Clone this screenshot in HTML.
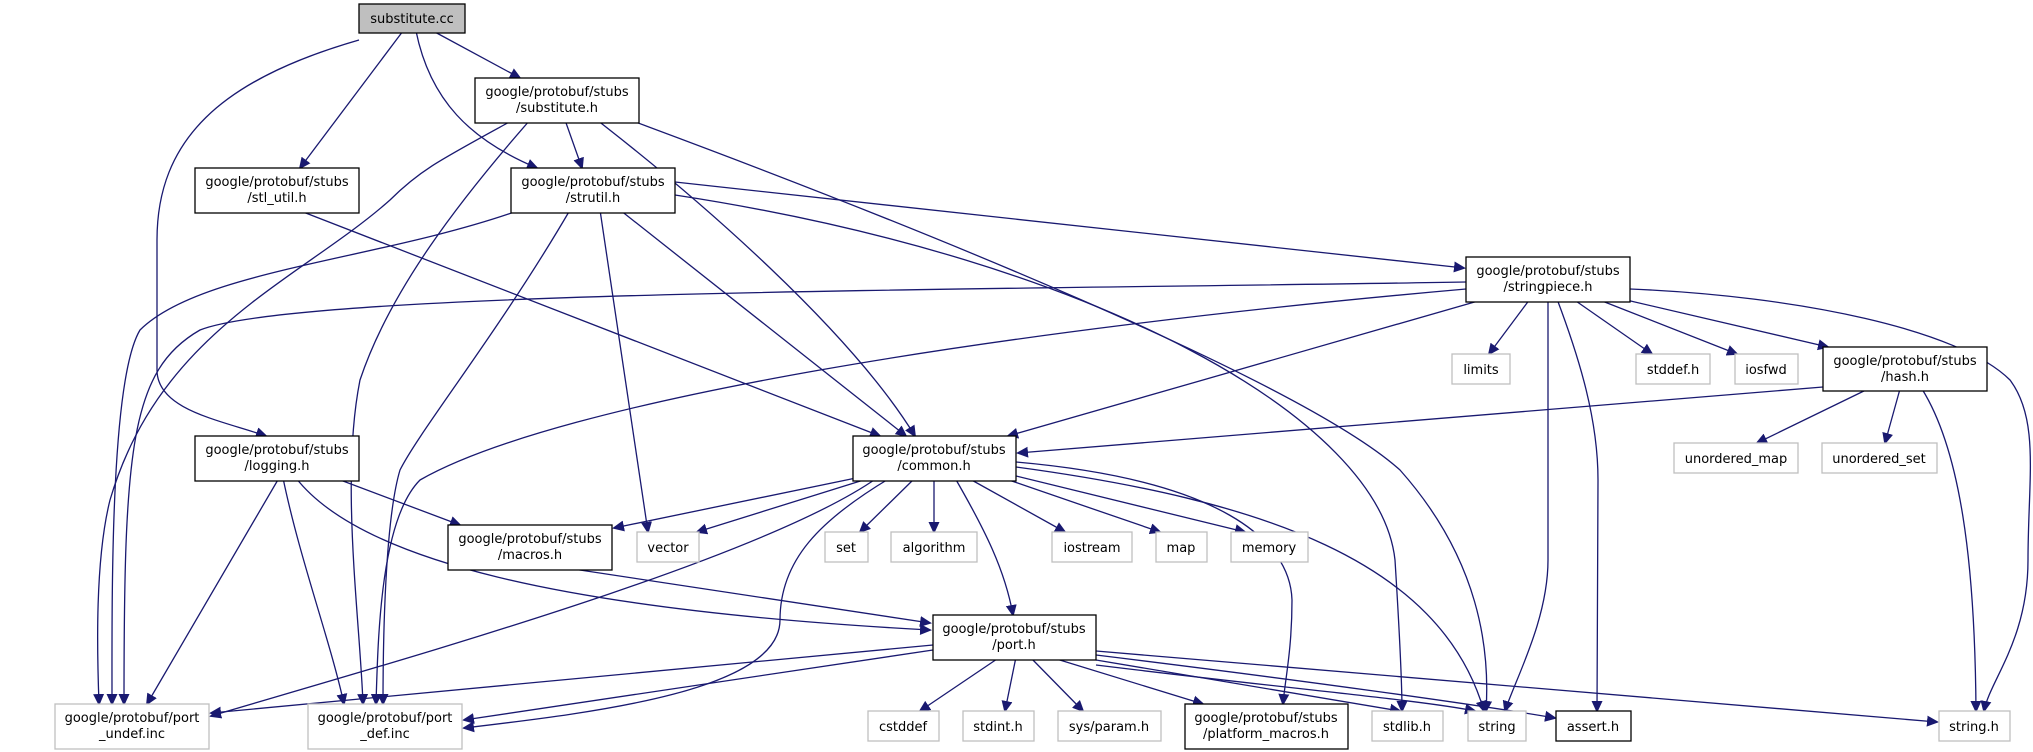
<!DOCTYPE html>
<html><head><meta charset="utf-8"><style>
html,body{margin:0;padding:0;background:#fff;width:2033px;height:752px;overflow:hidden}
svg text{font-family:"DejaVu Sans","Liberation Sans",sans-serif;font-size:13px;fill:#000}
</style></head><body>
<svg width="2033" height="752" viewBox="0 0 2033 752" xmlns="http://www.w3.org/2000/svg">
<defs>
<marker id="a" markerUnits="userSpaceOnUse" markerWidth="14" markerHeight="12" refX="10" refY="6" orient="auto">
<path d="M0,0.5 L12,6 L0,11.5 z" fill="#191970"/>
</marker>
</defs>
<g fill="none" stroke="#191970" stroke-width="1.3" marker-end="url(#a)">
<path d="M433,31 L520,78"/>
<path d="M403,31 L300,168"/>
<path d="M416,31 C430,100 470,140 537,168"/>
<path d="M359,40 C220,80 157,140 157,240 L157,370 C157,410 220,420 266,436"/>
<path d="M565,120 L582,168"/>
<path d="M513,120 C440,160 420,170 390,200 C300,280 160,330 110,500 C95,560 97,650 99,704"/>
<path d="M530,120 C460,200 390,290 360,380 C340,480 360,620 363,704"/>
<path d="M597,120 C700,200 850,330 915,436"/>
<path d="M630,120 C900,220 1300,380 1400,470 C1480,560 1490,650 1486,711"/>
<path d="M675,182 L1464,268"/>
<path d="M620,210 L906,436"/>
<path d="M600,210 L648,532"/>
<path d="M675,195 C1100,260 1380,420 1395,560 C1400,640 1402,690 1402,711"/>
<path d="M520,210 C380,260 200,270 140,330 C110,380 112,600 112,704"/>
<path d="M570,210 C500,330 420,430 400,470 C385,520 383,640 383,704"/>
<path d="M298,210 L880,436"/>
<path d="M1485,299 L1008,436"/>
<path d="M1530,299 L1489,354"/>
<path d="M1573,299 L1652,354"/>
<path d="M1597,299 L1737,354"/>
<path d="M1622,299 L1828,347"/>
<path d="M1630,289 C1800,296 1960,330 2010,380 C2040,420 2028,480 2028,560 C2028,640 1990,680 1984,711"/>
<path d="M1557,299 C1580,360 1598,420 1598,480 L1597,711"/>
<path d="M1548,299 L1548,560 C1548,620 1515,680 1505,711"/>
<path d="M1466,282 C1000,290 300,290 200,330 C130,370 124,450 124,704"/>
<path d="M1466,289 C1000,330 560,400 420,480 C380,520 378,640 376,704"/>
<path d="M1823,387 L1018,453"/>
<path d="M1868,389 L1757,443"/>
<path d="M1900,389 L1885,443"/>
<path d="M1922,389 C1960,450 1975,560 1976,711"/>
<path d="M335,478 L460,525"/>
<path d="M296,478 C360,560 560,610 930,630"/>
<path d="M279,478 L147,704"/>
<path d="M283,478 C300,560 330,640 344,704"/>
<path d="M856,478 L614,528"/>
<path d="M870,478 L697,532"/>
<path d="M915,478 L860,532"/>
<path d="M934,478 L934,532"/>
<path d="M968,478 L1065,532"/>
<path d="M1003,478 L1160,532"/>
<path d="M1016,476 L1245,532"/>
<path d="M955,478 C985,530 1005,570 1013,615"/>
<path d="M1016,462 C1220,480 1290,540 1292,600 C1292,650 1285,680 1283,704"/>
<path d="M1016,467 C1260,500 1440,560 1484,711"/>
<path d="M877,478 C760,560 400,660 211,716"/>
<path d="M890,478 C820,520 780,560 780,620 C780,690 600,712 464,728"/>
<path d="M560,567 L930,623"/>
<path d="M1000,657 L920,711"/>
<path d="M1016,657 L1005,711"/>
<path d="M1030,657 L1083,711"/>
<path d="M1050,657 L1203,704"/>
<path d="M1096,660 C1250,685 1340,700 1400,711"/>
<path d="M1096,665 C1300,690 1420,700 1475,711"/>
<path d="M1096,655 C1300,680 1480,705 1555,718"/>
<path d="M1096,651 L1937,722"/>
<path d="M933,645 L211,713"/>
<path d="M933,650 L464,720"/>
</g>
<g stroke-width="1.3">
<rect x="359" y="4" width="106" height="29" fill="#bfbfbf" stroke="#000"/>
<text x="412" y="23" text-anchor="middle">substitute.cc</text>

<rect x="475" y="78" width="164" height="45" fill="#fff" stroke="#000"/>
<text x="557" y="96" text-anchor="middle">google/protobuf/stubs</text><text x="557" y="112" text-anchor="middle">/substitute.h</text>

<rect x="195" y="168" width="164" height="45" fill="#fff" stroke="#000"/>
<text x="277" y="186" text-anchor="middle">google/protobuf/stubs</text><text x="277" y="202" text-anchor="middle">/stl_util.h</text>

<rect x="511" y="168" width="164" height="45" fill="#fff" stroke="#000"/>
<text x="593" y="186" text-anchor="middle">google/protobuf/stubs</text><text x="593" y="202" text-anchor="middle">/strutil.h</text>

<rect x="1466" y="257" width="164" height="45" fill="#fff" stroke="#000"/>
<text x="1548" y="275" text-anchor="middle">google/protobuf/stubs</text><text x="1548" y="291" text-anchor="middle">/stringpiece.h</text>

<rect x="195" y="436" width="164" height="45" fill="#fff" stroke="#000"/>
<text x="277" y="454" text-anchor="middle">google/protobuf/stubs</text><text x="277" y="470" text-anchor="middle">/logging.h</text>

<rect x="853" y="436" width="163" height="45" fill="#fff" stroke="#000"/>
<text x="934" y="454" text-anchor="middle">google/protobuf/stubs</text><text x="934" y="470" text-anchor="middle">/common.h</text>

<rect x="1823" y="347" width="164" height="44" fill="#fff" stroke="#000"/>
<text x="1905" y="365" text-anchor="middle">google/protobuf/stubs</text><text x="1905" y="381" text-anchor="middle">/hash.h</text>

<rect x="448" y="525" width="164" height="45" fill="#fff" stroke="#000"/>
<text x="530" y="543" text-anchor="middle">google/protobuf/stubs</text><text x="530" y="559" text-anchor="middle">/macros.h</text>

<rect x="933" y="615" width="163" height="45" fill="#fff" stroke="#000"/>
<text x="1014" y="633" text-anchor="middle">google/protobuf/stubs</text><text x="1014" y="649" text-anchor="middle">/port.h</text>

<rect x="1185" y="704" width="163" height="45" fill="#fff" stroke="#000"/>
<text x="1266" y="722" text-anchor="middle">google/protobuf/stubs</text><text x="1266" y="738" text-anchor="middle">/platform_macros.h</text>

<rect x="1556" y="711" width="75" height="30" fill="#fff" stroke="#000"/>
<text x="1593" y="731" text-anchor="middle">assert.h</text>
</g>
<g stroke="#bfbfbf" stroke-width="1.3" fill="#fff">
<rect x="55" y="704" width="154" height="45"/>
<rect x="308" y="704" width="154" height="45"/>
<rect x="1452" y="354" width="58" height="30"/>
<rect x="1636" y="354" width="74" height="30"/>
<rect x="1735" y="354" width="63" height="30"/>
<rect x="1674" y="443" width="124" height="30"/>
<rect x="1822" y="443" width="115" height="30"/>
<rect x="637" y="532" width="62" height="30"/>
<rect x="825" y="532" width="43" height="30"/>
<rect x="891" y="532" width="86" height="30"/>
<rect x="1052" y="532" width="80" height="30"/>
<rect x="1156" y="532" width="51" height="30"/>
<rect x="1231" y="532" width="77" height="30"/>
<rect x="868" y="711" width="71" height="30"/>
<rect x="963" y="711" width="71" height="30"/>
<rect x="1058" y="711" width="103" height="30"/>
<rect x="1372" y="711" width="71" height="30"/>
<rect x="1468" y="711" width="58" height="30"/>
<rect x="1939" y="711" width="71" height="30"/>
</g>
<g text-anchor="middle">
<text x="132" y="722">google/protobuf/port</text><text x="132" y="738">_undef.inc</text>
<text x="385" y="722">google/protobuf/port</text><text x="385" y="738">_def.inc</text>
<text x="1481" y="374">limits</text>
<text x="1673" y="374">stddef.h</text>
<text x="1766" y="374">iosfwd</text>
<text x="1736" y="463">unordered_map</text>
<text x="1879" y="463">unordered_set</text>
<text x="668" y="552">vector</text>
<text x="846" y="552">set</text>
<text x="934" y="552">algorithm</text>
<text x="1092" y="552">iostream</text>
<text x="1181" y="552">map</text>
<text x="1269" y="552">memory</text>
<text x="903" y="731">cstddef</text>
<text x="998" y="731">stdint.h</text>
<text x="1109" y="731">sys/param.h</text>
<text x="1407" y="731">stdlib.h</text>
<text x="1497" y="731">string</text>
<text x="1974" y="731">string.h</text>
</g>
</svg>
</body></html>
